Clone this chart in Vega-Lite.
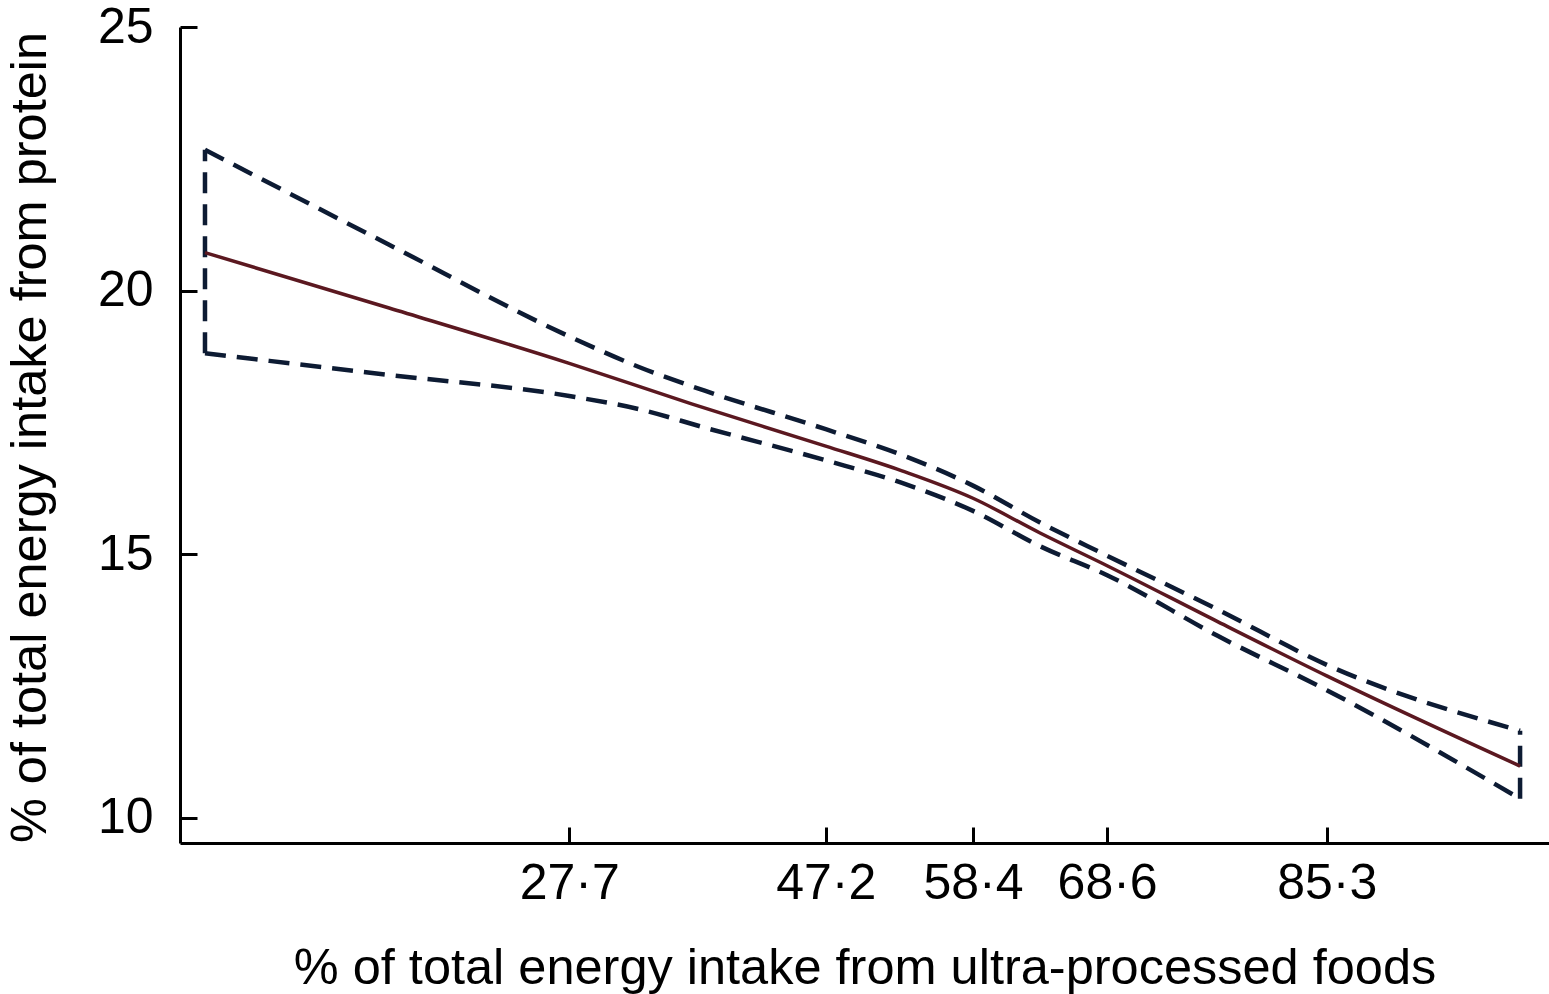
{
  "$schema": "https://vega.github.io/schema/vega-lite/v6.json",
  "width": 1369,
  "height": 816,
  "autosize": {"type": "none"},
  "padding": {"left": 180, "top": 27, "right": 0, "bottom": 151},
  "background": "white",
  "config": {
    "view": {"stroke": null},
    "font": "Liberation Sans",
    "axis": {
      "grid": false,
      "domainColor": "#000000",
      "domainWidth": 3,
      "tickColor": "#000000",
      "tickWidth": 3,
      "labelColor": "#000000",
      "titleColor": "#000000",
      "labelFont": "Liberation Sans",
      "titleFont": "Liberation Sans",
      "labelFontWeight": "normal",
      "titleFontWeight": "normal"
    }
  },
  "datasets": {
    "ci": [
      {"bound": "upper", "x": 0, "y": 22.67},
      {"bound": "upper", "x": 14, "y": 20.87},
      {"bound": "upper", "x": 27.7, "y": 19.13},
      {"bound": "upper", "x": 33, "y": 18.55},
      {"bound": "upper", "x": 38, "y": 18.1},
      {"bound": "upper", "x": 47.2, "y": 17.37},
      {"bound": "upper", "x": 53, "y": 16.88},
      {"bound": "upper", "x": 58.4, "y": 16.3},
      {"bound": "upper", "x": 63.5, "y": 15.6},
      {"bound": "upper", "x": 68.6, "y": 14.97},
      {"bound": "upper", "x": 77, "y": 13.95},
      {"bound": "upper", "x": 85.3, "y": 12.9},
      {"bound": "upper", "x": 100, "y": 11.65},
      {"bound": "lower", "x": 0, "y": 18.81},
      {"bound": "lower", "x": 14, "y": 18.4},
      {"bound": "lower", "x": 27.7, "y": 18.0},
      {"bound": "lower", "x": 33, "y": 17.75},
      {"bound": "lower", "x": 38, "y": 17.4},
      {"bound": "lower", "x": 47.2, "y": 16.78},
      {"bound": "lower", "x": 53, "y": 16.35},
      {"bound": "lower", "x": 58.4, "y": 15.82},
      {"bound": "lower", "x": 63.5, "y": 15.15},
      {"bound": "lower", "x": 68.6, "y": 14.6},
      {"bound": "lower", "x": 77, "y": 13.45},
      {"bound": "lower", "x": 85.3, "y": 12.42},
      {"bound": "lower", "x": 100, "y": 10.36}
    ],
    "ends": [
      {"x": 0, "lo": 18.81, "hi": 22.67},
      {"x": 100, "lo": 10.36, "hi": 11.65}
    ],
    "est": [
      {"x": 0, "y": 20.72},
      {"x": 14, "y": 19.67},
      {"x": 27.7, "y": 18.62},
      {"x": 37, "y": 17.85},
      {"x": 47.2, "y": 17.05},
      {"x": 53, "y": 16.58},
      {"x": 58.4, "y": 16.06},
      {"x": 63.5, "y": 15.4},
      {"x": 68.6, "y": 14.78},
      {"x": 77, "y": 13.72},
      {"x": 85.3, "y": 12.69},
      {"x": 100, "y": 10.98}
    ]
  },
  "layer": [
    {
      "data": {"name": "ci"},
      "mark": {"type": "line", "interpolate": "monotone", "color": "#0d1b33", "strokeWidth": 4.5, "strokeDash": [21, 11]},
      "encoding": {
        "x": {
          "field": "x", "type": "quantitative",
          "scale": {"domain": [-1.9, 102.2], "nice": false, "zero": false},
          "axis": {
            "values": [27.7, 47.2, 58.4, 68.6, 85.3],
            "labelExpr": "replace(format(datum.value, '.1f'), '.', '·')",
            "tickSize": -16,
            "labelPadding": 31,
            "labelFontSize": 50,
            "title": "% of total energy intake from ultra-processed foods",
            "titleFontSize": 50.5,
            "titleX": 684.5,
            "titleY": 140,
            "titleBaseline": "alphabetic",
            "titleAlign": "center"
          }
        },
        "y": {
          "field": "y", "type": "quantitative",
          "scale": {"domain": [9.52, 25], "nice": false, "zero": false},
          "axis": {
            "values": [10, 15, 20, 25],
            "tickSize": -17,
            "labelPadding": 44,
            "labelFontSize": 50,
            "title": "% of total energy intake from protein",
            "titleFontSize": 50.5,
            "titleAngle": -90,
            "titleX": -150,
            "titleY": 410,
            "titleAlign": "center",
            "titleBaseline": "middle"
          }
        },
        "detail": {"field": "bound", "type": "nominal"}
      }
    },
    {
      "data": {"name": "ends"},
      "mark": {"type": "rule", "color": "#0d1b33", "strokeWidth": 4.5, "strokeDash": [21, 11]},
      "encoding": {
        "x": {"field": "x", "type": "quantitative"},
        "y": {"field": "lo", "type": "quantitative"},
        "y2": {"field": "hi"}
      }
    },
    {
      "data": {"name": "est"},
      "mark": {"type": "line", "interpolate": "monotone", "color": "#5b1820", "strokeWidth": 3.5},
      "encoding": {
        "x": {"field": "x", "type": "quantitative"},
        "y": {"field": "y", "type": "quantitative"}
      }
    }
  ]
}
